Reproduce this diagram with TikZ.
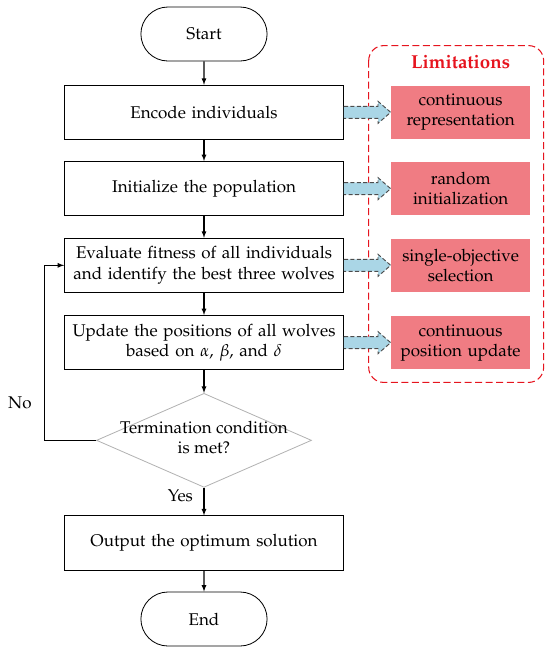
\documentclass[tikz,border=0pt]{standalone}
\usepackage[T1]{fontenc}
\usepackage{mathpazo}
\usetikzlibrary{shapes,arrows,calc,positioning}
\definecolor{limpink}{RGB}{240,124,131}
\definecolor{limred}{RGB}{230,20,30}
\definecolor{arrblue}{RGB}{170,214,230}
\tikzstyle{line} = [draw, line width=0.9pt, -latex]
\tikzstyle{terminal} = [draw, line width=0.7pt, rounded rectangle, minimum width=4.02cm, minimum height=1.62cm, font=\fontsize{14.5}{17.5}\selectfont]
\tikzstyle{process} = [rectangle, draw, line width=0.7pt, text width=8.1cm, minimum width=8.37cm, minimum height=1.63cm, text centered, font=\fontsize{14.5}{17.5}\selectfont]
\tikzstyle{decision} = [diamond, draw=gray!60, line width=0.7pt, inner sep=0pt, minimum width=6.45cm, minimum height=2.82cm, font=\fontsize{14.5}{16.5}\selectfont]
\tikzstyle{limit} = [rectangle, fill=limpink, text width=3.95cm, minimum width=4.02cm, minimum height=1.59cm, text centered, font=\fontsize{14.5}{17}\selectfont]
\tikzstyle{fatarr} = [draw=black!70, line width=0.8pt, dash pattern=on 3.5pt off 2pt, fill=arrblue]
\tikzstyle{limframe} = [draw=limred, line width=0.9pt, dash pattern=on 6pt off 3pt, rounded corners=0.45cm]
\newcommand{\bluearrow}[2]{\draw[fatarr] ($(#1.east)+(0,0.18)$) -- ($(#2.west)+(-0.38,0.18)$) -- ($(#2.west)+(-0.38,0.33)$) -- (#2.west) -- ($(#2.west)+(-0.38,-0.33)$) -- ($(#2.west)+(-0.38,-0.18)$) -- ($(#1.east)+(0,-0.18)$);}

\begin{document}
\begin{tikzpicture}
\useasboundingbox (0,0) rectangle (16.5,-19.5);
\node [terminal] (start) at (6.12,-1.02) {Start};
\node [process, below of=start, node distance=2.35cm] (encode) {Encode individuals};
\node [process, below of=encode, node distance=2.29cm] (init) {Initialize the population};
\node [process, below of=init, node distance=2.3cm] (eval) {Evaluate fitness of all individuals\\ and identify the best three wolves};
\node [process, below of=eval, node distance=2.32cm] (update) {Update the positions of all wolves\\ based on $\alpha$, $\beta$, and $\delta$};
\node [decision, below of=update, node distance=2.93cm] (term) {\makebox[0pt]{\smash{\raisebox{-0.2em}{\begin{tabular}{@{}c@{}}Termination condition\\[1pt] is met?\end{tabular}}}}};
\node [process, below of=term, node distance=3.08cm] (output) {Output the optimum solution};
\node [terminal, below of=output, node distance=2.28cm] (end) {End};

\path [line] (start) -- (encode);
\path [line] (encode) -- (init);
\path [line] (init) -- (eval);
\path [line] (eval) -- (update);
\path [line] (update) -- (term);
\path [line] (term) -- node [left, pos=0.3, xshift=-0.2cm, font=\fontsize{14.5}{15}\selectfont] (yes) {Yes} (output);
\path [line] (output) -- (end);
\path [line] (term.west) -- ++(-1.56,0) coordinate (loopc) |- (eval.west);
\node [left=0.25cm of loopc, yshift=1.14cm, font=\fontsize{14.5}{15}\selectfont] (no) {No};

% limitations
\node [limit, right of=encode, node distance=7.7cm] (lim1) {continuous\\ representation};
\node [limit, right of=init, node distance=7.7cm] (lim2) {random\\ initialization};
\node [limit, right of=eval, node distance=7.7cm] (lim3) {single-objective\\ selection};
\node [limit, right of=update, node distance=7.7cm] (lim4) {continuous\\ position update};
\node [above of=lim1, node distance=1.5cm, text=limred, font=\fontsize{16}{18}\selectfont\bfseries] (limtitle) {Limitations};
\draw [limframe] ($(lim1.north west)+(-0.66,1.2)$) rectangle ($(lim4.south east)+(0.39,-0.39)$);

\bluearrow{encode}{lim1}
\bluearrow{init}{lim2}
\bluearrow{eval}{lim3}
\bluearrow{update}{lim4}

\end{tikzpicture}
\end{document}
